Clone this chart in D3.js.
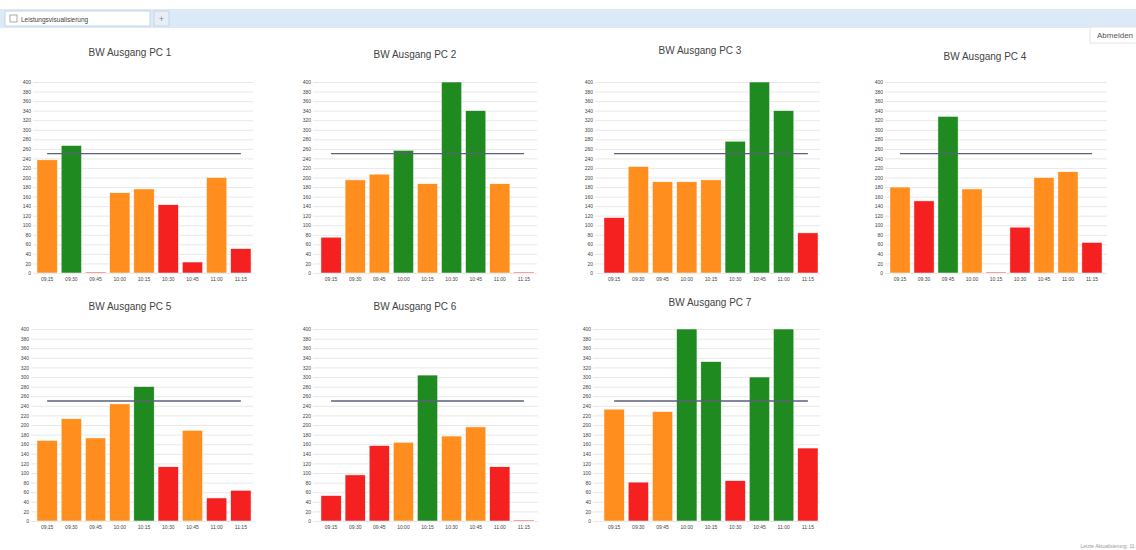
<!DOCTYPE html>
<html>
<head>
<meta charset="utf-8">
<script src="https://cdn.jsdelivr.net/npm/d3@7"></script>
<style>
  body { margin: 0; background: #fff; font-family: "Liberation Sans", Arial, sans-serif; }
</style>
</head>
<body>
<script>
// time slots, same for every chart
var times = ["09:15", "09:30", "09:45", "10:00", "10:15", "10:30", "10:45", "11:00", "11:15"];
var yTicks = d3.range(0, 401, 20);
var limit = 250;

// bandwidth values per PC
var pc1 = [237, 267, 2, 168, 176, 143, 23, 200, 51];
var pc2 = [75, 195, 207, 257, 187, 400, 340, 187, 2];
var pc3 = [116, 223, 191, 191, 195, 276, 400, 340, 84];
var pc4 = [180, 151, 328, 176, 2, 96, 200, 212, 64];
var pc5 = [168, 213, 173, 244, 280, 113, 189, 48, 64];
var pc6 = [53, 96, 157, 164, 304, 177, 196, 113, 2];
var pc7 = [233, 81, 228, 400, 332, 84, 300, 400, 152];
var titles = ["BW Ausgang PC 1", "BW Ausgang PC 2", "BW Ausgang PC 3", "BW Ausgang PC 4",
              "BW Ausgang PC 5", "BW Ausgang PC 6", "BW Ausgang PC 7"];
var series = [pc1, pc2, pc3, pc4, pc5, pc6, pc7];

// where each panel sits on the page
var panels = [
  {gl: 33, gr: 253, top: 82, bot: 273, bl: 36, br: 252, tx: 130, ty: 52},
  {gl: 313, gr: 537, top: 82, bot: 273, bl: 320, br: 535, tx: 415, ty: 54},
  {gl: 595, gr: 820, top: 82, bot: 273, bl: 603, br: 819, tx: 700, ty: 50},
  {gl: 885, gr: 1107, top: 82, bot: 273, bl: 889, br: 1103, tx: 985, ty: 56},
  {gl: 31, gr: 253, top: 329, bot: 521, bl: 36, br: 252, tx: 130, ty: 306},
  {gl: 313, gr: 538, top: 329, bot: 521, bl: 320, br: 535, tx: 415, ty: 306},
  {gl: 593, gr: 820, top: 329, bot: 521, bl: 603, br: 819, tx: 710, ty: 302}
];

function barColor(v) {
  if (v >= limit) return "#1f8a1f";
  if (v >= 160) return "#ff8e1e";
  return "#f52020";
}

var svg = d3.select("body").append("svg")
            .attr("width", 1136)
            .attr("height", 550);

// tab bar on top
svg.append("rect").attr("x", 0).attr("y", 9).attr("width", 1136).attr("height", 19).attr("fill", "#dce9f7");
svg.append("rect").attr("x", 5).attr("y", 11).attr("width", 145).attr("height", 15)
   .attr("fill", "#fff").attr("stroke", "#c8d4e0");
svg.append("rect").attr("x", 10).attr("y", 15).attr("width", 7).attr("height", 7)
   .attr("fill", "#fff").attr("stroke", "#aaa");
svg.append("text").attr("x", 21).attr("y", 21.5).attr("font-size", "6.5px").attr("fill", "#444")
   .text("Leistungsvisualisierung");
svg.append("rect").attr("x", 154).attr("y", 11).attr("width", 15).attr("height", 15)
   .attr("fill", "#e8eef5").attr("stroke", "#c8d4e0");
svg.append("text").attr("x", 161.5).attr("y", 21.5).attr("text-anchor", "middle")
   .attr("font-size", "9px").attr("fill", "#889").text("+");

// logout button
svg.append("rect").attr("x", 1090).attr("y", 27).attr("width", 50).attr("height", 16)
   .attr("fill", "#fff").attr("stroke", "#e4e4e4");
svg.append("text").attr("x", 1097).attr("y", 38).attr("font-size", "8px").attr("fill", "#555").text("Abmelden");

// footer
svg.append("text").attr("x", 1136).attr("y", 548).attr("text-anchor", "end")
   .attr("font-size", "5px").attr("fill", "#999").text("Letzte Aktualisierung: 11:");

series.forEach(function(vals, i) {
  var p = panels[i];
  var g = svg.append("g");

  var x = d3.scaleBand().domain(times).range([p.bl, p.br]).paddingInner(0.16).paddingOuter(0.04);
  var y = d3.scaleLinear().domain([0, 400]).range([p.bot, p.top]);

  // title
  g.append("text").attr("x", p.tx).attr("y", p.ty + 3.5).attr("text-anchor", "middle")
   .attr("font-size", "10px").attr("fill", "#444").text(titles[i]);

  // y axis with grid
  var ya = g.append("g").attr("transform", "translate(" + p.gl + ",0)")
            .call(d3.axisLeft(y).tickValues(yTicks).tickSizeInner(-(p.gr - p.gl)).tickSizeOuter(0).tickPadding(2));
  ya.select(".domain").remove();
  ya.selectAll("line").attr("stroke", "#e2e2e2").attr("stroke-width", 0.8);
  ya.selectAll("text").attr("font-size", "5px").attr("fill", "#444").attr("font-family", "Liberation Sans, Arial");

  // x axis labels
  var xa = g.append("g").attr("transform", "translate(0," + p.bot + ")")
            .call(d3.axisBottom(x).tickSize(0).tickPadding(4));
  xa.select(".domain").remove();
  xa.selectAll("text").attr("font-size", "5px").attr("fill", "#444").attr("font-family", "Liberation Sans, Arial");

  // bars
  g.selectAll("rect.bar").data(vals).enter().append("rect")
   .attr("class", "bar")
   .attr("x", function(d, j) { return x(times[j]); })
   .attr("y", function(d) { return y(d); })
   .attr("width", x.bandwidth())
   .attr("height", function(d) { return y(0) - y(d); })
   .attr("fill", function(d) { return barColor(d); })
   .attr("stroke", "#fff")
   .attr("stroke-width", 0.5);

  // limit line
  g.append("line")
   .attr("x1", x(times[0]) + x.bandwidth() / 2)
   .attr("x2", x(times[times.length - 1]) + x.bandwidth() / 2)
   .attr("y1", y(limit)).attr("y2", y(limit))
   .attr("stroke", "#5a5f7a").attr("stroke-width", 1.3);
});
</script>
</body>
</html>
